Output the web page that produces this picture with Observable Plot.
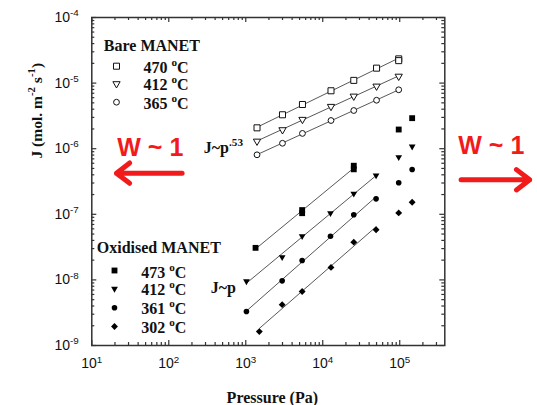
<!DOCTYPE html>
<html>
<head>
<meta charset="utf-8">
<script src="https://cdn.jsdelivr.net/npm/d3@7"></script>
<script src="https://cdn.jsdelivr.net/npm/@observablehq/plot@0.6"></script>
<style>
  html, body { margin: 0; padding: 0; background: #fff; }
  #chart { width: 537px; height: 405px; }
</style>
</head>
<body>
<div id="chart"></div>
<script>
// ---------- data ----------
const xDomain = [10, 3.85e5];
const yDomain = [1e-9, 1e-4];
const xMajor = [10, 100, 1000, 1e4, 1e5];
const yMajor = [1e-9, 1e-8, 1e-7, 1e-6, 1e-5, 1e-4];
const xTickLabels = ["10^{1}", "10^{2}", "10^{3}", "10^{4}", "10^{5}"];
const yTickLabels = ["10^{-9}", "10^{-8}", "10^{-7}", "10^{-6}", "10^{-5}", "10^{-4}"];

// Bare MANET
const bareP    = [1400, 3000, 5450, 12800, 25300, 50000, 97000];
const bare470J = [2.08e-6, 3.29e-6, 4.72e-6, 7.64e-6, 1.10e-5, 1.69e-5, 2.34e-5];
const bare412J = [1.30e-6, 1.94e-6, 2.79e-6, 4.40e-6, 6.31e-6, 8.97e-6, 1.27e-5];
const bare365J = [8.07e-7, 1.21e-6, 1.71e-6, 2.69e-6, 3.82e-6, 5.48e-6, 7.91e-6];
const bare470ExtraP = [97000];
const bare470ExtraJ = [2.2e-5];

// Oxidised MANET (fitted runs)
const ox473P = [1340, 5400, 5400, 25300, 25300];
const ox473J = [3.08e-8, 1.04e-7, 1.16e-7, 4.85e-7, 5.5e-7];
const ox412P = [1020, 2970, 5400, 12600, 25300, 49300];
const ox412J = [9.54e-9, 2.22e-8, 4.64e-8, 1.04e-7, 2.06e-7, 3.91e-7];
const ox361P = [1020, 2970, 5400, 12600, 25300, 49300];
const ox361J = [3.30e-9, 9.68e-9, 1.98e-8, 4.64e-8, 9.82e-8, 1.72e-7];
const ox302P = [1500, 2970, 5400, 12800, 25300, 49300];
const ox302J = [1.63e-9, 4.19e-9, 6.65e-9, 1.55e-8, 3.76e-8, 5.81e-8];
// Oxidised MANET high-pressure points (not on fits)
const oxHighP  = [97000, 145000];
const ox473HiJ = [1.96e-6, 2.92e-6];
const ox412HiJ = [7.42e-7, 1.08e-6];
const ox361HiJ = [3.02e-7, 4.82e-7];
const ox302HiJ = [1.05e-7, 1.53e-7];

const bareTitle = "Bare MANET";
const bareLabels = ["470 ^{o}C", "412 ^{o}C", "365 ^{o}C"];
const oxTitle = "Oxidised MANET";
const oxLabels = ["473 ^{o}C", "412 ^{o}C", "361 ^{o}C", "302 ^{o}C"];
const slopeBare = "J~p^{.53}";
const slopeOx = "J~p";
const wText = "W ~ 1";
const xTitle = "Pressure (Pa)";
const yTitle = "J (mol. m^{-2} s^{-1})";

// annotation arrows in data coordinates
const arrowLeft  = [{x1: 149, x2: 20.9, y: 4.24e-7}];
const arrowRight = [{x1: 6.27e5, x2: 4.88e6, y: 3.36e-7}];

// ---------- helpers ----------
const zip = (P, J) => P.map((p, i) => ({p, J: J[i]}));
// least-squares power-law fit (log-log), drawn between the first and last pressure
function fit(P, J) {
  const lx = P.map(Math.log10), ly = J.map(Math.log10);
  const mx = d3.mean(lx), my = d3.mean(ly);
  const b = d3.sum(lx, (x, i) => (x - mx) * (ly[i] - my)) / d3.sum(lx, x => (x - mx) ** 2);
  const a = my - b * mx;
  const ends = [d3.min(P), d3.max(P)];
  return ends.map(p => ({p, J: 10 ** (a + b * Math.log10(p))}));
}
const serif = "Liberation Serif, Times New Roman, serif";
const sans = "Liberation Sans, Arial, sans-serif";

const W = 537, H = 405;
const mL = 91.3, mR = W - 444.3, mT = 17, mB = H - 345;
const pw = W - mL - mR, ph = H - mT - mB;

const xMinor = d3.scaleLog().domain(xDomain).ticks().filter(v => !xMajor.includes(v));
const yMinor = d3.scaleLog().domain(yDomain).ticks().filter(v => !yMajor.some(m => Math.abs(m - v) / m < 1e-6));

const tickStroke = "#333";
const frameTicks = [
  Plot.ruleX(xMajor, {x: d => d, insetTop: ph - 5, stroke: tickStroke, strokeWidth: 1.2}),
  Plot.ruleX(xMajor, {x: d => d, insetBottom: ph - 5, stroke: tickStroke, strokeWidth: 1.2}),
  Plot.ruleX(xMinor, {x: d => d, insetTop: ph - 3, stroke: tickStroke, strokeWidth: 1.2}),
  Plot.ruleX(xMinor, {x: d => d, insetBottom: ph - 3, stroke: tickStroke, strokeWidth: 1.2}),
  Plot.ruleY(yMajor, {y: d => d, insetRight: pw - 5, stroke: tickStroke, strokeWidth: 1.2}),
  Plot.ruleY(yMajor, {y: d => d, insetLeft: pw - 5, stroke: tickStroke, strokeWidth: 1.2}),
  Plot.ruleY(yMinor, {y: d => d, insetRight: pw - 3, stroke: tickStroke, strokeWidth: 1.2}),
  Plot.ruleY(yMinor, {y: d => d, insetLeft: pw - 3, stroke: tickStroke, strokeWidth: 1.2})
];

const lineStyle = {x: "p", y: "J", stroke: "#444", strokeWidth: 0.9};
const openStyle = {x: "p", y: "J", fill: "white", stroke: "#111", strokeWidth: 1};
const filledStyle = {x: "p", y: "J", fill: "#000", stroke: "none"};

const sym = {
  s470: {symbol: "square", r: 3.4},
  t412: {symbol: "triangle", r: 2.7, rotate: 180},
  c365: {symbol: "circle", r: 2.9},
  S473: {symbol: "square", r: 3.3},
  T412: {symbol: "triangle", r: 2.5, rotate: 180},
  C361: {symbol: "circle", r: 2.8},
  D302: {symbol: "diamond2", r: 3.1}
};

const textStyle = {frameAnchor: "top-left", textAnchor: "start", lineAnchor: "middle",
  fontFamily: serif, fontWeight: "bold", fontSize: 16, fill: "#111"};

const legendMarks = [];
legendMarks.push(Plot.text([bareTitle], {...textStyle, dx: 12, dy: 28}));
[sym.s470, sym.t412, sym.c365].forEach((s, i) => {
  legendMarks.push(Plot.dot([0], {frameAnchor: "top-left", dx: 24.7, dy: [48.7, 66.3, 84.7][i],
    ...s, fill: "white", stroke: "#111", strokeWidth: 1}));
  legendMarks.push(Plot.text([bareLabels[i]], {...textStyle, dx: 51.7, dy: [50, 67.5, 86][i]}));
});
legendMarks.push(Plot.text([oxTitle], {...textStyle, dx: 5, dy: 230.7}));
[sym.S473, sym.T412, sym.C361, sym.D302].forEach((s, i) => {
  legendMarks.push(Plot.dot([0], {frameAnchor: "top-left", dx: 22.7, dy: [253, 271.3, 290.3, 309][i],
    ...s, fill: "#000", stroke: "none"}));
  legendMarks.push(Plot.text([oxLabels[i]], {...textStyle, dx: 49.4, dy: [255, 272.5, 291.5, 310.5][i]}));
});
legendMarks.push(Plot.text([slopeBare], {...textStyle, dx: 112, dy: 130}));
legendMarks.push(Plot.text([slopeOx], {...textStyle, dx: 119, dy: 270}));

const red = "#f21b1b";
const wStyle = {frameAnchor: "top-left", textAnchor: "start", lineAnchor: "middle",
  fontFamily: sans, fontWeight: "bold", fontSize: 25, fill: red};

const chart = Plot.plot({
  width: W, height: H,
  marginLeft: mL, marginRight: mR, marginTop: mT, marginBottom: mB,
  style: {fontFamily: sans, fontSize: "14px", color: "#111", background: "#fff", overflow: "visible"},
  x: {type: "log", domain: xDomain},
  y: {type: "log", domain: yDomain},
  marks: [
    Plot.frame({stroke: "#333", strokeWidth: 1.5}),
    ...frameTicks,
    Plot.axisX({ticks: xMajor, tickSize: 0, tickPadding: 13, label: null,
      tickFormat: d => xTickLabels[xMajor.indexOf(d)], fontSize: 14}),
    Plot.axisY({ticks: yMajor, tickSize: 0, tickPadding: 13, label: null,
      tickFormat: d => yTickLabels[yMajor.findIndex(m => Math.abs(m - d) / m < 1e-6)], fontSize: 14}),
    // fits
    Plot.line(fit(bareP, bare470J), lineStyle),
    Plot.line(fit(bareP, bare412J), lineStyle),
    Plot.line(fit(bareP, bare365J), lineStyle),
    Plot.line(fit(ox473P, ox473J), lineStyle),
    Plot.line(fit(ox412P, ox412J), lineStyle),
    Plot.line(fit(ox361P, ox361J), lineStyle),
    Plot.line(fit(ox302P, ox302J), lineStyle),
    // bare points
    Plot.dot(zip(bareP, bare470J), {...openStyle, ...sym.s470}),
    Plot.dot(zip(bare470ExtraP, bare470ExtraJ), {...openStyle, ...sym.s470}),
    Plot.dot(zip(bareP, bare412J), {...openStyle, ...sym.t412}),
    Plot.dot(zip(bareP, bare365J), {...openStyle, ...sym.c365}),
    // oxidised points
    Plot.dot(zip(ox473P, ox473J), {...filledStyle, ...sym.S473}),
    Plot.dot(zip(oxHighP, ox473HiJ), {...filledStyle, ...sym.S473}),
    Plot.dot(zip(ox412P, ox412J), {...filledStyle, ...sym.T412}),
    Plot.dot(zip(oxHighP, ox412HiJ), {...filledStyle, ...sym.T412}),
    Plot.dot(zip(ox361P, ox361J), {...filledStyle, ...sym.C361}),
    Plot.dot(zip(oxHighP, ox361HiJ), {...filledStyle, ...sym.C361}),
    Plot.dot(zip(ox302P, ox302J), {...filledStyle, ...sym.D302}),
    Plot.dot(zip(oxHighP, ox302HiJ), {...filledStyle, ...sym.D302}),
    // legend + annotations
    ...legendMarks,
    Plot.text([xTitle], {frameAnchor: "bottom", dx: 4, dy: 52, lineAnchor: "middle",
      fontFamily: serif, fontWeight: "bold", fontSize: 16, fill: "#111"}),
    Plot.text([yTitle], {frameAnchor: "left", dx: -55, dy: -23, rotate: -90, lineAnchor: "middle",
      fontFamily: serif, fontWeight: "bold", fontSize: 15.5, fill: "#111"}),
    Plot.text([wText], {...wStyle, dx: 25.5, dy: 130.5}),
    Plot.text([wText], {...wStyle, dx: 366.5, dy: 128}),
    Plot.arrow(arrowLeft, {x1: "x1", x2: "x2", y1: "y", y2: "y", stroke: red, strokeWidth: 5,
      headLength: 5, headAngle: 75, clip: false}),
    Plot.arrow(arrowRight, {x1: "x1", x2: "x2", y1: "y", y2: "y", stroke: red, strokeWidth: 5,
      headLength: 5, headAngle: 75, clip: false})
  ]
});

// render "^{...}" as real superscript tspans
const svgns = "http://www.w3.org/2000/svg";
chart.querySelectorAll("text").forEach(t => {
  const s = t.textContent;
  if (!s.includes("^{")) return;
  const parts = s.split(/(\^\{[^}]*\})/).filter(p => p.length);
  while (t.firstChild) t.removeChild(t.firstChild);
  let raised = false;
  for (const p of parts) {
    const ts = document.createElementNS(svgns, "tspan");
    if (p.startsWith("^{")) {
      ts.textContent = p.slice(2, -1);
      ts.setAttribute("font-size", "70%");
      ts.setAttribute("dy", "-0.6em");
      raised = true;
    } else {
      ts.textContent = p;
      if (raised) { ts.setAttribute("dy", "0.42em"); raised = false; }
    }
    t.appendChild(ts);
  }
});

document.getElementById("chart").appendChild(chart);
</script>
</body>
</html>
